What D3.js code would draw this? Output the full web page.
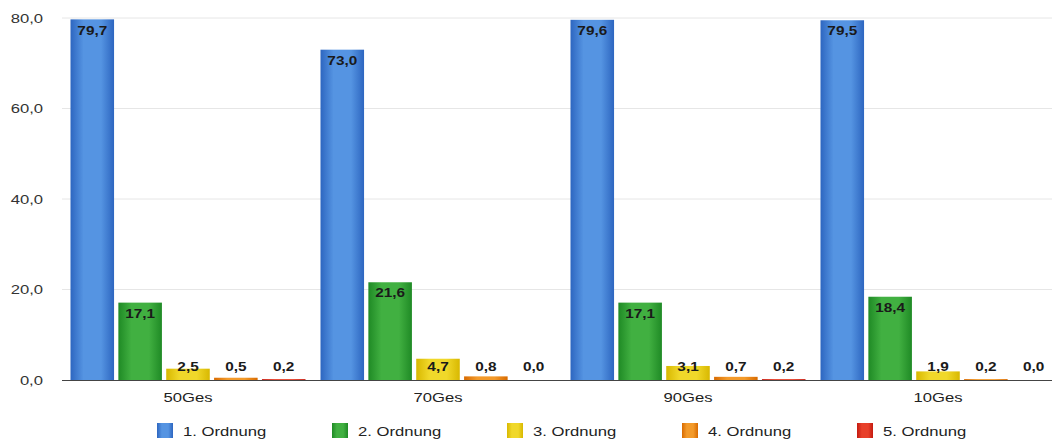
<!DOCTYPE html>
<html>
<head>
<meta charset="utf-8">
<script src="https://cdn.jsdelivr.net/npm/d3@7"></script>
<style>
  body { margin: 0; background: #fff; }
  svg { display: block; font-family: "Liberation Sans", Arial, sans-serif; }
</style>
</head>
<body>
<svg id="chart" width="1052" height="439"></svg>
<script>
const categories = ["50Ges", "70Ges", "90Ges", "10Ges"];
const seriesNames = ["1. Ordnung", "2. Ordnung", "3. Ordnung", "4. Ordnung", "5. Ordnung"];
const ordnung1 = [79.7, 73.0, 79.6, 79.5];
const ordnung2 = [17.1, 21.6, 17.1, 18.4];
const ordnung3 = [2.5, 4.7, 3.1, 1.9];
const ordnung4 = [0.5, 0.8, 0.7, 0.2];
const ordnung5 = [0.2, 0.0, 0.2, 0.0];
const yTicks = [0, 20, 40, 60, 80];

const seriesValues = [ordnung1, ordnung2, ordnung3, ordnung4, ordnung5];
const colors = [
  ["#5594e2", "#2d66c0"],
  ["#41b041", "#1f8a25"],
  ["#f0d82a", "#d8b800"],
  ["#f39a2a", "#d86a00"],
  ["#e8402a", "#c41a10"]
];

const svg = d3.select("#chart");
const W = 1052, H = 439;
const gridLeft = 62;
const plotBottom = 380;
const textStretch = 1.28; // wide lettering

const fmt = v => d3.format(".1f")(v).replace(".", ",");

const x0 = d3.scaleBand().domain(categories).range([68, W + 6]).paddingInner(0.06).paddingOuter(0.01);
const x1 = d3.scaleBand().domain(d3.range(seriesNames.length)).range([0, x0.bandwidth()]).paddingInner(0.09).paddingOuter(0);
const y = d3.scaleLinear().domain([0, 80]).range([plotBottom, 18]);

// places a horizontally stretched text at (x, y)
function place(sel, fx, fy) {
  sel.attr("transform", (d, i) => `translate(${fx(d, i)},${fy(d, i)}) scale(${textStretch},1)`);
}

const defs = svg.append("defs");
colors.forEach((c, i) => {
  const g = defs.append("linearGradient").attr("id", "grad" + i)
    .attr("x1", 0).attr("y1", 0).attr("x2", 1).attr("y2", 0);
  g.append("stop").attr("offset", "0%").attr("stop-color", c[1]);
  g.append("stop").attr("offset", "30%").attr("stop-color", c[0]);
  g.append("stop").attr("offset", "70%").attr("stop-color", c[0]);
  g.append("stop").attr("offset", "100%").attr("stop-color", c[1]);
});

// gridlines
svg.append("g").selectAll("line").data(yTicks.filter(t => t > 0)).join("line")
  .attr("x1", gridLeft).attr("x2", W)
  .attr("y1", d => y(d)).attr("y2", d => y(d))
  .attr("stroke", "#e6e6e6").attr("stroke-width", 1);

// y axis labels
svg.append("g").selectAll("text").data(yTicks).join("text")
  .attr("dy", "0.35em")
  .attr("text-anchor", "end").attr("font-size", 13).attr("fill", "#333")
  .text(d => fmt(d))
  .call(place, () => 43, d => y(d));

// bars
const groups = svg.append("g").selectAll("g").data(categories).join("g")
  .attr("transform", d => `translate(${x0(d)},0)`);

groups.each(function(cat, ci) {
  const g = d3.select(this);
  seriesValues.forEach((vals, si) => {
    const v = vals[ci];
    const bx = x1(si), bw = x1.bandwidth();
    g.append("rect")
      .attr("x", bx).attr("width", bw)
      .attr("y", y(v)).attr("height", plotBottom - y(v))
      .attr("fill", `url(#grad${si})`);
    const ly = Math.min(y(v) + 11, plotBottom - 13);
    g.append("text")
      .attr("dy", "0.35em")
      .attr("text-anchor", "middle").attr("font-size", 12).attr("font-weight", "bold")
      .attr("fill", "#1a1a1a")
      .text(fmt(v))
      .attr("transform", `translate(${bx + bw / 2},${ly}) scale(${textStretch},1)`);
  });
});

// baseline
svg.append("line").attr("x1", gridLeft).attr("x2", W)
  .attr("y1", plotBottom + 0.5).attr("y2", plotBottom + 0.5)
  .attr("stroke", "#444").attr("stroke-width", 1);

// category labels
svg.append("g").selectAll("text").data(categories).join("text")
  .attr("dy", "0.35em")
  .attr("text-anchor", "middle").attr("font-size", 13).attr("fill", "#222")
  .text(d => d)
  .call(place, d => x0(d) + x0.bandwidth() / 2, () => 397);

// legend
const legend = svg.append("g").selectAll("g").data(seriesNames).join("g")
  .attr("transform", (d, i) => `translate(${157 + i * 175},423)`);
legend.append("rect").attr("width", 16).attr("height", 15).attr("fill", (d, i) => `url(#grad${i})`);
legend.append("text").attr("dy", "0.35em")
  .attr("font-size", 13).attr("fill", "#222").text(d => d)
  .attr("transform", `translate(26,8) scale(${textStretch},1)`);
</script>
</body>
</html>
